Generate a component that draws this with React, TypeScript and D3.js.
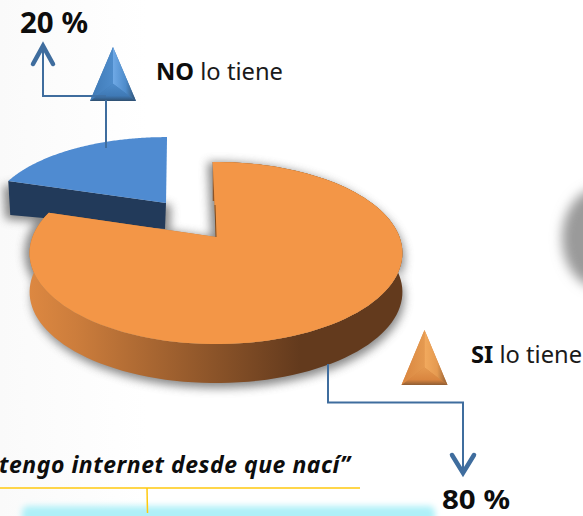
import React from "react";
import * as d3 from "d3";

const categories = ["SI", "NO"];
const shares = [80, 20];
const shareLabels = ["80 %", "20 %"];
const legendTail = "lo tiene";
const quote = "tengo internet desde que nací”";

const K = 0.176;
const toRad = Math.PI / 180;
function project(a: number, vx: number, vy: number, bx: number, by: number) {
  const X = Math.sin(a), Y = Math.cos(a), w = 1 + K * Y;
  return [vx + (bx * X) / w, vy - (by * Y) / w] as [number, number];
}

const pie = d3.pie<number>().sort(null).startAngle(-1.2 * toRad).endAngle((360 - 1.2) * toRad);
const arcs = pie(shares);
const line = d3.line();
function wedge(a0: number, a1: number, vx: number, vy: number, bx: number, by: number) {
  const pts = d3.range(0, 121).map((i) => project(a0 + ((a1 - a0) * i) / 120, vx, vy, bx, by));
  return line([[vx, vy], ...pts])! + "Z";
}
function ribbon(a0: number, a1: number, vx: number, vy: number, bx: number, by: number, depth: number) {
  const pts = d3.range(0, 121).map((i) => project(a0 + ((a1 - a0) * i) / 120, vx, vy, bx, by));
  return d3.area<[number, number]>().x((d) => d[0]).y0((d) => d[1]).y1((d) => d[1] + depth)(pts)!;
}

const O = { vx: 216, vy: 237, bx: 183.5, by: 88.2, depth: 39 };
const B = { vx: 166, vy: 203, bx: 174, by: 77.5, rot: 1.6 * toRad };

function Cone({ x, y, w, h, id, base, light, dark, mid }: any) {
  const c = [x, y + h * 0.68];
  const L = [x - w / 2, y + h], R = [x + w / 2, y + h], T = [x, y];
  const poly = (p: number[][]) => p.map((q) => q.join(",")).join(" ");
  return (
    <g>
      <polygon points={poly([T, L, R])} fill={base} />
      <polygon points={poly([T, L, c])} fill={`url(#${id}L)`} />
      <polygon points={poly([T, R, c])} fill={`url(#${id}R)`} />
      <polygon points={poly([L, R, c])} fill={`url(#${id}B)`} />
      <defs>
        <linearGradient id={`${id}L`} x1="0" x2="1" y1="0" y2="0">
          <stop offset="0" stopColor={base} />
          <stop offset="1" stopColor={mid} />
        </linearGradient>
        <linearGradient id={`${id}R`} x1="0" x2="1" y1="0" y2="0">
          <stop offset="0" stopColor={light} />
          <stop offset="0.55" stopColor={mid} />
          <stop offset="1" stopColor={dark} />
        </linearGradient>
        <linearGradient id={`${id}B`} x1="0" x2="0" y1="0" y2="1">
          <stop offset="0" stopColor={mid} />
          <stop offset="0.7" stopColor={base} />
          <stop offset="1" stopColor={dark} />
        </linearGradient>
      </defs>
    </g>
  );
}

export default function App() {
  const [si, no] = arcs;
  const bA0 = no.startAngle, bA1 = no.endAngle + B.rot;
  const font = "'Noto Sans', sans-serif";
  const label = "#0d0d0d";
  const conn = "#3f6d9e";
  const orangeTop = wedge(si.startAngle, si.endAngle, O.vx, O.vy, O.bx, O.by);
  const orangeSide = ribbon(si.startAngle, si.endAngle, O.vx, O.vy, O.bx, O.by, O.depth);
  const blueTop = wedge(bA0 + 0.6 * toRad, bA1, B.vx, B.vy, B.bx, B.by);
  const blueEdge = project(bA0 + 0.6 * toRad, B.vx, B.vy, B.bx, B.by);
  const blueSide = line([blueEdge, [B.vx, B.vy], [B.vx - 1, B.vy + 26], [blueEdge[0] + 2, blueEdge[1] + 34]])! + "Z";
  return (
    <svg width={583} height={516} viewBox="0 0 583 516" style={{ position: "fixed", left: 0, top: 0, fontFamily: font }}>
      <defs>
        <linearGradient id="bg" x1="0" x2="1" y1="0" y2="0">
          <stop offset="0" stopColor="#fafafa" />
          <stop offset="0.25" stopColor="#ffffff" />
        </linearGradient>
        <linearGradient id="side" gradientUnits="userSpaceOnUse" x1={20} x2={300} y1={0} y2={0}>
          <stop offset="0" stopColor="#e08a42" />
          <stop offset="0.2" stopColor="#cc7d3c" />
          <stop offset="1" stopColor="#633a1d" />
        </linearGradient>
        <filter id="blur" x="-30%" y="-30%" width="160%" height="160%"><feGaussianBlur stdDeviation="5" /></filter>
        <filter id="soft" x="-50%" y="-50%" width="200%" height="200%"><feGaussianBlur stdDeviation="6" /></filter>
        <filter id="edge" x="-5%" y="-5%" width="110%" height="110%"><feGaussianBlur stdDeviation="0.7" /></filter>
        <filter id="glow" x="-5%" y="-50%" width="110%" height="200%"><feGaussianBlur stdDeviation="3" /></filter>
      </defs>
      <rect width={583} height={516} fill="url(#bg)" />
      <ellipse cx={600} cy={238} rx={38} ry={50} fill="#9a9a9a" filter="url(#soft)" />

      {/* shadows */}
      <g fill="#6a6a6a" opacity={0.8} filter="url(#blur)">
        <path d={blueSide} transform="translate(5,2)" />
        <path d={blueSide} transform="translate(-5,4)" />
        <path d={orangeSide} transform="translate(2,5)" />
        <path d={orangeTop} transform="translate(-5,0)" />
      </g>

      {/* blue slice */}
      <path d={blueSide} fill="#223a5a" />
      <path d={blueTop} fill="#4f8bd1" filter="url(#edge)" />

      {/* orange slice */}
      <path d={orangeSide} fill="url(#side)" />
      <path d={orangeTop} fill="#c07a3a" />
      <path d={orangeTop} fill="#f39646" filter="url(#edge)" />
      <line x1={215} y1={205} x2={216} y2={237} stroke="#7a4a20" strokeWidth={1} />

      {/* connectors */}
      <path d="M106,148V96H43V47" fill="none" stroke={conn} strokeWidth={2} />
      <path d="M33,64L43,46L53,64" fill="none" stroke={conn} strokeWidth={4.5} strokeLinecap="round" />
      <path d="M328,364V402.5H463V472" fill="none" stroke={conn} strokeWidth={2} />
      <path d="M452,455L463,473L474,455" fill="none" stroke={conn} strokeWidth={4.5} strokeLinecap="round" />

      <Cone x={113} y={47} w={46} h={54} id="cb" base="#3f79b5" light="#6fa9e6" mid="#4e8ccb" dark="#2f4f70" />
      <path d="M106,96H90" stroke={conn} strokeWidth={2} opacity={0.6} />
      <path d="M106,100V148" stroke={conn} strokeWidth={2} />
      <Cone x={424.5} y={330} w={46} h={55} id="co" base="#d9853f" light="#f2aa5e" mid="#e59a50" dark="#8f5d33" />

      {/* labels */}
      <text x={20} y={33} fontSize={29} fontWeight={700} fill={label} textLength={68} lengthAdjust="spacingAndGlyphs">{shareLabels[1]}</text>
      <text x={442} y={508.5} fontSize={26} fontWeight={700} fill={label} textLength={68} lengthAdjust="spacingAndGlyphs">{shareLabels[0]}</text>
      <text x={156} y={80} fontSize={23} fill="#1a1a1a" textLength={127} lengthAdjust="spacingAndGlyphs">
        <tspan fontWeight={700} fill={label}>{categories[1]}</tspan> {legendTail}
      </text>
      <text x={471} y={363} fontSize={23} fill="#1a1a1a" textLength={111} lengthAdjust="spacingAndGlyphs">
        <tspan fontWeight={700} fill={label}>{categories[0]}</tspan> {legendTail}
      </text>
      <text x={-1} y={473} fontSize={23} fontWeight={700} fontStyle="italic" fill={label} textLength={351} lengthAdjust="spacing">{quote}</text>

      {/* bottom rule and box */}
      <rect x={22} y={506} width={413} height={20} rx={6} fill="#aef0f8" filter="url(#glow)" />
      <line x1={0} y1={488} x2={360} y2={488} stroke="#ffc90e" strokeWidth={1.5} />
      <line x1={147} y1={488} x2={147.5} y2={513} stroke="#ffc90e" strokeWidth={1.5} />
    </svg>
  );
}
